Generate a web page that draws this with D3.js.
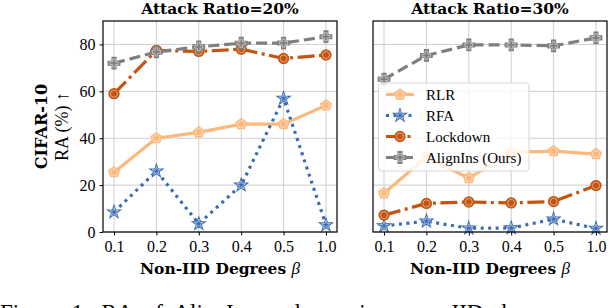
<!DOCTYPE html>
<html>
<head>
<meta charset="utf-8">
<script src="https://d3js.org/d3.v7.min.js"></script>
<style>
  body { margin: 0; background: #fff; }
  svg { display: block; }
</style>
</head>
<body>
<script>
// categories on x axis
var betas = ["0.1", "0.2", "0.3", "0.4", "0.5", "1.0"];
var yTicks = [0, 20, 40, 60, 80];
var seriesNames = ["RLR", "RFA", "Lockdown", "AlignIns (Ours)"];

// Attack ratio 20%
var rlr20 = [25.5, 40, 42.5, 46, 46, 54];
var rfa20 = [8.5, 26, 3.5, 20, 57, 3];
var lockdown20 = [59, 77.5, 77, 78, 74, 75.5];
var alignins20 = [72, 76.8, 79, 80.5, 80.6, 83.3];

// Attack ratio 30%
var rlr30 = [16.5, 32, 23, 34, 34.5, 33.2];
var rfa30 = [2.6, 4.6, 1.6, 1.7, 5.5, 1.5];
var lockdown30 = [7.2, 12.2, 12.8, 12.4, 13, 19.8];
var alignins30 = [65.2, 75.3, 79.8, 79.8, 79.4, 82.8];

var SERIF = "'Liberation Serif', 'Times New Roman', Times, serif";
var styles = [
  {color: "#fdb97d", dash: null, sym: "pent"},
  {color: "#3a6cb5", dash: "3,4.5", sym: "star"},
  {color: "#c4540f", dash: "17,4.5,3,4.5", sym: "circle"},
  {color: "#7f7f7f", dash: "11,5", sym: "plus"}
];

var W = 610, H = 308;
var svg = d3.select("body").append("svg").attr("width", W).attr("height", H);

var top_ = 21, bottom = 232;
var y = d3.scaleLinear().domain([0, 90]).range([bottom, top_]);

function symPath(kind, s) {
  if (kind === "circle") return d3.symbol(d3.symbolCircle, 80 * s * s)();
  if (kind === "star") return d3.symbol(d3.symbolStar, 50 * s * s)();
  if (kind === "plus") return d3.symbol(d3.symbolCross, 75 * s * s)();
  // pentagon
  var r = 5.6 * s, pts = [];
  for (var i = 0; i < 5; i++) {
    var a = -Math.PI / 2 + i * 2 * Math.PI / 5;
    pts.push([r * Math.cos(a), r * Math.sin(a)]);
  }
  return "M" + pts.join("L") + "Z";
}

function drawMarker(g, kind, color, cx, cy) {
  g.append("path").attr("d", symPath(kind, 1))
    .attr("transform", "translate(" + cx + "," + cy + ")")
    .attr("fill", color).attr("stroke", color).attr("stroke-width", 1.2);
  g.append("path").attr("d", symPath(kind, 0.7))
    .attr("transform", "translate(" + cx + "," + cy + ")")
    .attr("fill", "none").attr("stroke", "#fff").attr("stroke-width", 0.6).attr("opacity", 0.8);
}

function panel(x0, x1, title, data, showY) {
  var x = d3.scaleLinear().domain([-0.26, 5.26]).range([x0, x1]);
  var g = svg.append("g");

  // grid
  g.selectAll(".vg").data(betas).enter().append("line")
    .attr("x1", function(d, i) { return x(i); }).attr("x2", function(d, i) { return x(i); })
    .attr("y1", top_).attr("y2", bottom)
    .attr("stroke", "#cfcfcf").attr("stroke-width", 1);
  g.selectAll(".hg").data(yTicks).enter().append("line")
    .attr("x1", x0).attr("x2", x1)
    .attr("y1", function(d) { return y(d); }).attr("y2", function(d) { return y(d); })
    .attr("stroke", "#cfcfcf").attr("stroke-width", 1);

  // axes
  var xa = g.append("g").attr("transform", "translate(0," + bottom + ")")
    .call(d3.axisBottom(x).tickValues(d3.range(betas.length)).tickFormat(function(i) { return betas[i]; }).tickSize(3.5).tickPadding(5));
  xa.select(".domain").remove();
  xa.attr("font-family", SERIF).attr("font-size", 16);
  xa.selectAll("text").style("font-family", SERIF).attr("fill", "#000");

  if (showY) {
    var ya = g.append("g").attr("transform", "translate(" + x0 + ",0)")
      .call(d3.axisLeft(y).tickValues(yTicks).tickSize(3.5).tickPadding(4));
    ya.select(".domain").remove();
    ya.attr("font-family", SERIF).attr("font-size", 16);
    ya.selectAll("text").style("font-family", SERIF).attr("fill", "#000");
  }

  // lines
  var line = d3.line().x(function(d, i) { return x(i); }).y(function(d) { return y(d); });
  data.forEach(function(vals, k) {
    var st = styles[k];
    var lg = g.append("g");
    lg.append("path").attr("d", line(vals))
      .attr("fill", "none").attr("stroke", st.color).attr("stroke-width", 3.2)
      .attr("stroke-dasharray", st.dash);
    vals.forEach(function(v, i) { drawMarker(lg, st.sym, st.color, x(i), y(v)); });
  });

  // frame
  g.append("rect").attr("x", x0).attr("y", top_).attr("width", x1 - x0).attr("height", bottom - top_)
    .attr("fill", "none").attr("stroke", "#000").attr("stroke-width", 1.2);

  svg.append("text").attr("x", (x0 + x1) / 2).attr("y", 14).attr("text-anchor", "middle")
    .style("font-family", "'DejaVu Serif', serif").attr("font-weight", "bold").attr("font-size", 15.5)
    .text(title);

  var xl = svg.append("text").attr("x", (x0 + x1) / 2).attr("y", 274).attr("text-anchor", "middle")
    .style("font-family", "'DejaVu Serif', serif").attr("font-weight", "bold").attr("font-size", 15.5);
  xl.append("tspan").text("Non-IID Degrees ");
  xl.append("tspan").style("font-family", SERIF).attr("font-weight", "normal")
    .attr("font-style", "italic").attr("font-size", 17).text("\u03b2");
  return x;
}

panel(103, 337, "Attack Ratio=20%", [rlr20, rfa20, lockdown20, alignins20], true);
panel(373, 607, "Attack Ratio=30%", [rlr30, rfa30, lockdown30, alignins30], false);

// y label
var cy = (top_ + bottom) / 2;
svg.append("text").attr("transform", "translate(47," + cy + ") rotate(-90)")
  .attr("text-anchor", "middle").style("font-family", "'DejaVu Serif', serif").attr("font-weight", "bold")
  .attr("font-size", 16).text("CIFAR-10");
svg.append("text").attr("transform", "translate(68," + cy + ") rotate(-90)")
  .attr("text-anchor", "middle").style("font-family", SERIF)
  .attr("font-size", 18).text("RA (%) \u2191");

// legend
var leg = svg.append("g");
leg.append("rect").attr("x", 378.5).attr("y", 83).attr("width", 150.5).attr("height", 88).attr("rx", 3)
  .attr("fill", "#fff").attr("fill-opacity", 0.8).attr("stroke", "#d6d6d6").attr("stroke-width", 1);
seriesNames.forEach(function(name, k) {
  var st = styles[k], ly = 94.5 + k * 21;
  leg.append("line").attr("x1", 386).attr("x2", 414).attr("y1", ly).attr("y2", ly)
    .attr("stroke", st.color).attr("stroke-width", 3.2).attr("stroke-dasharray", st.dash);
  drawMarker(leg, st.sym, st.color, 400, ly);
  leg.append("text").attr("x", 426).attr("y", ly + 5).style("font-family", SERIF)
    .attr("font-size", 15).text(name);
});

// caption line of the paper, only its top shows at the lower edge
svg.append("text").attr("x", 0).attr("y", 320).style("font-family", SERIF)
  .attr("font-size", 23).attr("word-spacing", 6)
  .text("Figure 1:  RA of AlignIns under various non-IID degrees");
</script>
</body>
</html>
